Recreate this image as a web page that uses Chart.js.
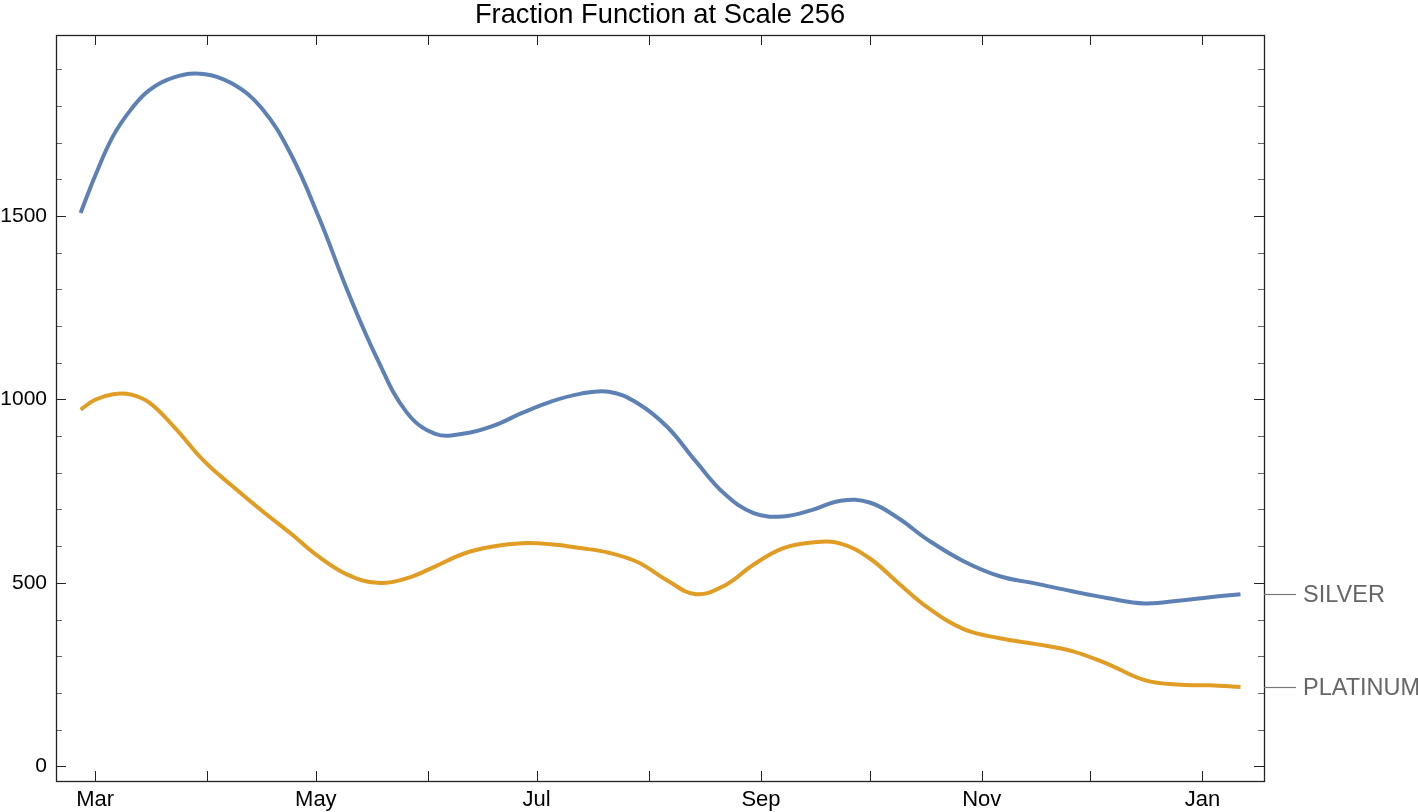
<!DOCTYPE html>
<html>
<head>
<meta charset="utf-8">
<title>Fraction Function at Scale 256</title>
<script src="https://cdn.jsdelivr.net/npm/chart.js@4"></script>
<style>
  body { margin: 0; background: #fff; }
  #wrap { width: 1418px; height: 812px; }
</style>
</head>
<body>
<div id="wrap"><canvas id="chart" width="1418" height="812"></canvas></div>
<script>
// days counted from Mar 1
const days = [-4, 0, 5, 10, 15, 22, 30, 38, 46, 54, 62, 70, 78, 86, 94, 102, 110, 118, 126, 134,
    142, 150, 158, 166, 174, 182, 190, 198, 206, 214, 222, 230, 240, 250, 260, 270, 280, 290, 300, 308, 316.5];
const silver = [1508, 1609, 1718, 1791, 1843, 1878, 1887, 1860, 1794, 1670, 1492, 1290, 1110, 966, 906,
    907, 928, 963, 994, 1015, 1021, 989, 926, 831, 742, 690, 681, 698, 724, 719, 676, 618, 559, 518, 498,
    477, 458, 444, 452, 461, 469];
const platinum = [972, 999, 1014, 1013, 991, 923, 833, 763, 697, 635, 570, 521, 500, 512, 545, 580, 599,
    608, 605, 595, 582, 556, 507, 469, 493, 550, 594, 610, 607, 567, 499, 433, 374, 349, 333, 314, 278,
    235, 222, 221, 216];
const seriesNames = ['SILVER', 'PLATINUM'];
const monthDays = [0, 31, 61, 92, 122, 153, 184, 214, 245, 275, 306];
const monthNames = ['Mar', 'Apr', 'May', 'Jun', 'Jul', 'Aug', 'Sep', 'Oct', 'Nov', 'Dec', 'Jan'];
const yMajor = [0, 500, 1000, 1500];
const yMinor = [100, 200, 300, 400, 600, 700, 800, 900, 1100, 1200, 1300, 1400, 1600, 1700, 1800, 1900];
const chartTitle = 'Fraction Function at Scale 256';

const FONT = 'Liberation Sans, Arial, sans-serif';

function toPoints(vals) {
    return days.map((d, i) => ({ x: d, y: vals[i] }));
}

// inward ticks on all four sides + frame, Mathematica style
const frameTicks = {
    id: 'frameTicks',
    afterDraw(chart) {
        const { ctx, chartArea: a, scales } = chart;
        const xs = scales.x, ys = scales.y;
        ctx.save();

        // title centred over the plot frame
        ctx.fillStyle = '#000';
        ctx.font = '27.3px ' + FONT;
        ctx.textAlign = 'center';
        ctx.textBaseline = 'middle';
        ctx.fillText(chartTitle, (a.left + a.right) / 2, 15);

        ctx.lineWidth = 1;
        ctx.strokeStyle = '#222';
        ctx.beginPath();
        monthDays.forEach(d => {
            const px = Math.round(xs.getPixelForValue(d)) + 0.5;
            ctx.moveTo(px, a.bottom); ctx.lineTo(px, a.bottom - 10);
            ctx.moveTo(px, a.top); ctx.lineTo(px, a.top + 10);
        });
        yMajor.forEach(v => {
            const py = Math.round(ys.getPixelForValue(v)) + 0.5;
            ctx.moveTo(a.left, py); ctx.lineTo(a.left + 10, py);
            ctx.moveTo(a.right, py); ctx.lineTo(a.right - 10, py);
        });
        ctx.stroke();
        ctx.strokeStyle = '#666';
        ctx.beginPath();
        yMinor.forEach(v => {
            const py = Math.round(ys.getPixelForValue(v)) + 0.5;
            ctx.moveTo(a.left, py); ctx.lineTo(a.left + 6, py);
            ctx.moveTo(a.right, py); ctx.lineTo(a.right - 6, py);
        });
        ctx.stroke();
        ctx.strokeStyle = '#222';
        ctx.lineWidth = 1.3;
        ctx.strokeRect(Math.round(a.left) + 0.5, Math.round(a.top) + 0.5,
            Math.round(a.right - a.left), Math.round(a.bottom - a.top));

        // series labels at the right edge
        ctx.font = '23.5px ' + FONT;
        ctx.textBaseline = 'middle';
        ctx.textAlign = 'left';
        chart.data.datasets.forEach((ds, i) => {
            const meta = chart.getDatasetMeta(i);
            const last = meta.data[meta.data.length - 1];
            const py = Math.round(last.y) + 0.5;
            ctx.strokeStyle = '#777';
            ctx.lineWidth = 1.2;
            ctx.beginPath();
            ctx.moveTo(a.right, py); ctx.lineTo(a.right + 32, py);
            ctx.stroke();
            ctx.fillStyle = '#666';
            ctx.fillText(seriesNames[i], a.right + 39, py + 1);
        });
        ctx.restore();
    }
};

new Chart(document.getElementById('chart'), {
    type: 'line',
    data: {
        datasets: [
            {
                label: seriesNames[0],
                data: toPoints(silver),
                borderColor: '#5E81B5',
                borderWidth: 4,
                pointRadius: 0,
                tension: 0.4,
                fill: false
            },
            {
                label: seriesNames[1],
                data: toPoints(platinum),
                borderColor: '#E19C24',
                borderWidth: 4,
                pointRadius: 0,
                tension: 0.4,
                fill: false
            }
        ]
    },
    options: {
        responsive: false,
        animation: false,
        events: [],
        layout: { padding: { left: 0, right: 154, top: 35, bottom: 0 } },
        plugins: {
            legend: { display: false },
            tooltip: { enabled: false },
            title: { display: false }
        },
        scales: {
            x: {
                type: 'linear',
                min: -10.8,
                max: 323,
                grid: { display: false, drawTicks: false },
                border: { display: false },
                afterBuildTicks: (scale) => {
                    scale.ticks = monthDays.map(v => ({ value: v }));
                },
                afterFit: (scale) => { scale.height = 31; },
                ticks: {
                    autoSkip: false,
                    maxRotation: 0,
                    padding: 6,
                    color: '#000',
                    font: { family: FONT, size: 22 },
                    callback: (v) => {
                        const i = monthDays.indexOf(v);
                        return i % 2 === 0 ? monthNames[i] : '';
                    }
                }
            },
            y: {
                type: 'linear',
                min: -40,
                max: 1993,
                grid: { display: false, drawTicks: false },
                border: { display: false },
                afterBuildTicks: (scale) => {
                    scale.ticks = yMajor.map(v => ({ value: v }));
                },
                afterFit: (scale) => { scale.width = 56; },
                ticks: {
                    padding: 9,
                    color: '#000',
                    font: { family: FONT, size: 21 },
                    callback: (v) => String(v)
                }
            }
        }
    },
    plugins: [frameTicks]
});
</script>
</body>
</html>
